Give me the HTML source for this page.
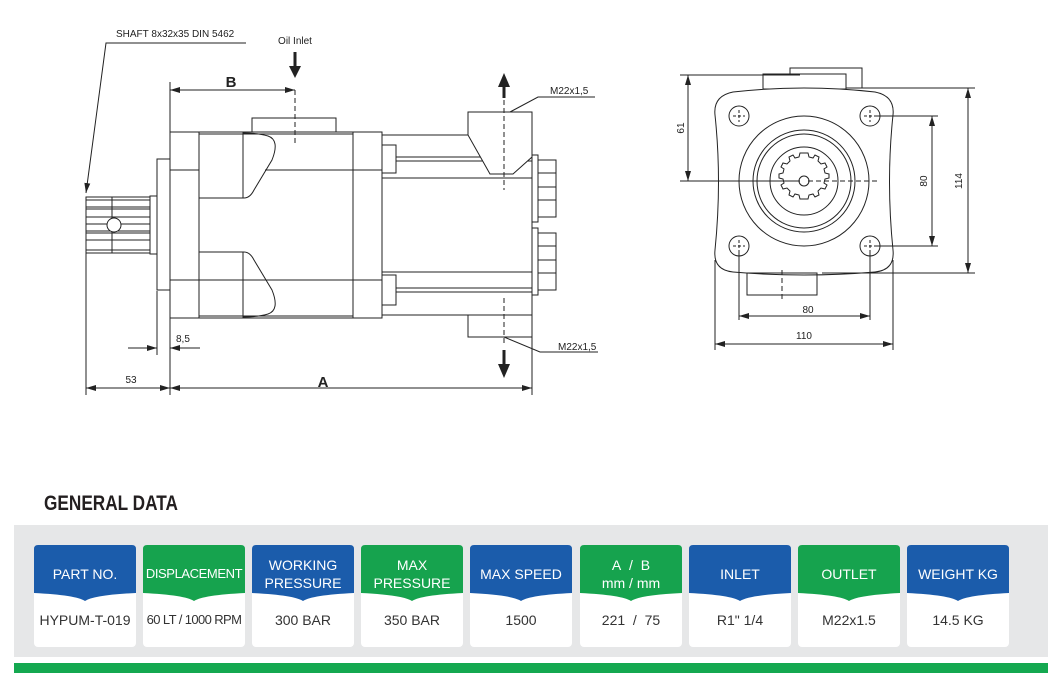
<!DOCTYPE html>
<html><head><meta charset="utf-8"><style>
body{margin:0;background:#fff;width:1062px;height:692px;overflow:hidden;position:relative;font-family:"Liberation Sans",sans-serif}
svg{position:absolute;left:0;top:0}
.gd{position:absolute;left:44px;top:492px;font:bold 21px "Liberation Sans Narrow","Liberation Sans",sans-serif;color:#231f20;transform:scaleX(.82);transform-origin:left top;letter-spacing:0}
.panel{position:absolute;left:14px;top:525px;width:1034px;height:132px;background:#e6e7e8}
.bar{position:absolute;left:14px;top:663px;width:1034px;height:10px;background:#14a850}
.card{position:absolute;top:545px;width:102px;height:102px;background:#fff;border-radius:4px}
.hd{position:absolute;left:0;top:0;width:102px;height:57px}
.ht{position:absolute;left:0;top:2px;width:102px;height:54px;display:flex;align-items:center;justify-content:center;text-align:center;color:#fff;font-size:14px;line-height:18px;white-space:nowrap}
.v{position:absolute;left:0;top:67px;width:102px;text-align:center;font-size:14px;color:#333;white-space:nowrap}
</style></head><body>
<svg width="1062" height="692" viewBox="0 0 1062 692" fill="none" stroke="#222" stroke-width="1">
<defs>
<marker id="ar" viewBox="0 0 10 6" refX="10" refY="3" markerWidth="10" markerHeight="6" orient="auto" markerUnits="userSpaceOnUse"><path d="M0,0L10,3L0,6z" fill="#222" stroke="none"/></marker>
</defs>
<g font-family="Liberation Sans, sans-serif" font-size="10" fill="#222" stroke="none">
<text x="116" y="37">SHAFT 8x32x35 DIN 5462</text>
<text x="295" y="44" text-anchor="middle">Oil Inlet</text>
<text x="550" y="94">M22x1,5</text>
<text x="558" y="350">M22x1,5</text>
<text x="176" y="342">8,5</text>
<text x="131" y="383" text-anchor="middle">53</text>
<text x="231" y="87" text-anchor="middle" font-size="15" font-weight="bold">B</text>
<text x="323" y="387" text-anchor="middle" font-size="15" font-weight="bold">A</text>
<text x="808" y="313" text-anchor="middle">80</text>
<text x="804" y="339" text-anchor="middle">110</text>
<text transform="translate(684,128) rotate(-90)" text-anchor="middle">61</text>
<text transform="translate(927,181) rotate(-90)" text-anchor="middle">80</text>
<text transform="translate(962,181) rotate(-90)" text-anchor="middle">114</text>
</g>
<path d="M246,43H106L86,193" marker-end="url(#ar)"/>
<path d="M295,52V68" stroke-width="3"/><path d="M289,66L295,78L301,66z" fill="#222" stroke="none"/>
<path d="M504,86V98" stroke-width="3"/><path d="M498,87L504,73L510,87z" fill="#222" stroke="none"/>
<path d="M504,350V366" stroke-width="3"/><path d="M498,364L504,378L510,364z" fill="#222" stroke="none"/>
<path d="M510,112L538,97H595"/><path d="M504,337L540,352H598"/>
<path d="M170,82V132"/><path d="M295,90V143" stroke-dasharray="5,3"/>
<path d="M232,90H170" marker-end="url(#ar)"/><path d="M232,90H295" marker-end="url(#ar)"/>
<path d="M86,253V395M170,318V395M157,291V355M532,337V395"/>
<path d="M128,348H157" marker-end="url(#ar)"/><path d="M200,348H170" marker-end="url(#ar)"/>
<path d="M128,388H86" marker-end="url(#ar)"/><path d="M128,388H170" marker-end="url(#ar)"/>
<path d="M350,388H170" marker-end="url(#ar)"/><path d="M350,388H532" marker-end="url(#ar)"/>
<rect x="86" y="197" width="64" height="56"/>
<path d="M86,200H150M86,207H150M86,209H150M86,217H150M86,224H150M86,231H150M86,233H150M86,240H150M86,250H150M112,197V253"/>
<circle cx="114" cy="225" r="7" fill="#fff"/>
<rect x="150" y="196" width="7" height="58"/>
<rect x="157" y="159" width="13" height="131"/>
<rect x="252" y="118" width="84" height="14"/>
<rect x="170" y="132" width="212" height="186"/>
<path d="M199,132V318M353,132V318M170,170H199M170,280H199M265,170H382M199,280H382M199,134H353M199,316H353"/>
<path d="M199,198H244Q250,198 254,190L272,160Q280,140 268,136Q258,133 243,133V198"/>
<path d="M199,252H244Q250,252 254,260L272,290Q280,310 268,314Q258,317 243,317V252"/>
<path d="M382,135H468M382,178H532M382,272H532M382,315H532M396,157H532M396,161H532M396,288H532M396,292H532"/>
<rect x="382" y="145" width="14" height="28"/>
<rect x="382" y="275" width="14" height="30"/>
<path d="M468,112H532V157L513,174H490L468,135Z" fill="#fff"/>
<rect x="468" y="315" width="64" height="22"/>
<rect x="532" y="155" width="6" height="67"/><rect x="538" y="160" width="18" height="57"/>
<path d="M538,173H556M538,187H556M538,200H556"/>
<rect x="532" y="228" width="6" height="67"/><rect x="538" y="233" width="18" height="57"/>
<path d="M538,246H556M538,260H556M538,273H556"/>
<path d="M532,178V395"/>
<path d="M504,100V190M504,298V343" stroke-dasharray="5,3"/>
<rect x="790" y="68" width="72" height="20"/>
<rect x="763" y="74" width="83" height="15" fill="#fff"/>
<path d="M733,92Q804,84 875,92Q895,96 893,115Q886,181 893,250Q895,270 875,272Q804,278 733,272Q713,270 715,250Q722,181 715,115Q713,96 733,92Z" fill="#fff"/>
<rect x="747" y="273" width="70" height="22"/>
<circle cx="739" cy="116" r="10"/><circle cx="870" cy="116" r="10"/><circle cx="739" cy="246" r="10"/><circle cx="870" cy="246" r="10"/>
<path d="M733,116H745M739,110V122M864,116H876M870,110V122M733,246H745M739,240V252M864,246H876M870,240V252" stroke-dasharray="3,2"/>
<circle cx="804" cy="181" r="65"/><circle cx="804" cy="181" r="51"/><circle cx="804" cy="181" r="47"/><circle cx="804" cy="181" r="34"/>
<path d="M804,153l4,0 1,4 4,1 2,-3 4,2 -1,4 3,3 4,-1 2,4 -3,2 1,4 4,1 0,4 -4,1 -1,4 3,2 -2,4 -4,-1 -3,3 1,4 -4,2 -2,-3 -4,1 -1,4 -8,0 -1,-4 -4,-1 -2,3 -4,-2 1,-4 -3,-3 -4,1 -2,-4 3,-2 -1,-4 -4,-1 0,-4 4,-1 1,-4 -3,-2 2,-4 4,1 3,-3 -1,-4 4,-2 2,3 4,-1 1,-4z"/>
<circle cx="804" cy="181" r="5"/>
<path d="M680,181H800"/><path d="M808,181H880" stroke-dasharray="5,3"/>
<path d="M782,270V300" stroke-dasharray="5,3"/>
<path d="M680,75H800M862,88H975M876,116H938M876,246H938M822,273H975M739,252V320M870,252V320M715,260V350M893,260V350"/>
<path d="M688,128V75" marker-end="url(#ar)"/><path d="M688,128V181" marker-end="url(#ar)"/>
<path d="M932,181V116" marker-end="url(#ar)"/><path d="M932,181V246" marker-end="url(#ar)"/>
<path d="M968,181V88" marker-end="url(#ar)"/><path d="M968,181V273" marker-end="url(#ar)"/>
<path d="M804,316H739" marker-end="url(#ar)"/><path d="M804,316H870" marker-end="url(#ar)"/>
<path d="M804,344H715" marker-end="url(#ar)"/><path d="M804,344H893" marker-end="url(#ar)"/>
</svg>
<div class="gd">GENERAL DATA</div>
<div class="panel"></div>
<div class="bar"></div>

<div class="card" style="left:34px"><svg class="hd" width="102" height="57"><path d="M0,4Q0,0 4,0H98Q102,0 102,4V48Q60,50 51,56Q42,50 0,48Z" fill="#1b5cab"/></svg><div class="ht">PART NO.</div><div class="v">HYPUM-T-019</div></div>
<div class="card" style="left:143px"><svg class="hd" width="102" height="57"><path d="M0,4Q0,0 4,0H98Q102,0 102,4V48Q60,50 51,56Q42,50 0,48Z" fill="#16a34e"/></svg><div class="ht" style="font-size:13px;letter-spacing:-0.4px">DISPLACEMENT</div><div class="v" style="font-size:13px;letter-spacing:-0.6px">60 LT / 1000 RPM</div></div>
<div class="card" style="left:252px"><svg class="hd" width="102" height="57"><path d="M0,4Q0,0 4,0H98Q102,0 102,4V48Q60,50 51,56Q42,50 0,48Z" fill="#1b5cab"/></svg><div class="ht">WORKING<br>PRESSURE</div><div class="v">300 BAR</div></div>
<div class="card" style="left:361px"><svg class="hd" width="102" height="57"><path d="M0,4Q0,0 4,0H98Q102,0 102,4V48Q60,50 51,56Q42,50 0,48Z" fill="#16a34e"/></svg><div class="ht">MAX<br>PRESSURE</div><div class="v">350 BAR</div></div>
<div class="card" style="left:470px"><svg class="hd" width="102" height="57"><path d="M0,4Q0,0 4,0H98Q102,0 102,4V48Q60,50 51,56Q42,50 0,48Z" fill="#1b5cab"/></svg><div class="ht">MAX SPEED</div><div class="v">1500</div></div>
<div class="card" style="left:580px"><svg class="hd" width="102" height="57"><path d="M0,4Q0,0 4,0H98Q102,0 102,4V48Q60,50 51,56Q42,50 0,48Z" fill="#16a34e"/></svg><div class="ht">A&nbsp;&nbsp;/&nbsp;&nbsp;B<br>mm / mm</div><div class="v">221&nbsp;&nbsp;/&nbsp;&nbsp;75</div></div>
<div class="card" style="left:689px"><svg class="hd" width="102" height="57"><path d="M0,4Q0,0 4,0H98Q102,0 102,4V48Q60,50 51,56Q42,50 0,48Z" fill="#1b5cab"/></svg><div class="ht">INLET</div><div class="v">R1" 1/4</div></div>
<div class="card" style="left:798px"><svg class="hd" width="102" height="57"><path d="M0,4Q0,0 4,0H98Q102,0 102,4V48Q60,50 51,56Q42,50 0,48Z" fill="#16a34e"/></svg><div class="ht">OUTLET</div><div class="v">M22x1.5</div></div>
<div class="card" style="left:907px"><svg class="hd" width="102" height="57"><path d="M0,4Q0,0 4,0H98Q102,0 102,4V48Q60,50 51,56Q42,50 0,48Z" fill="#1b5cab"/></svg><div class="ht">WEIGHT KG</div><div class="v">14.5 KG</div></div>
</body></html>
